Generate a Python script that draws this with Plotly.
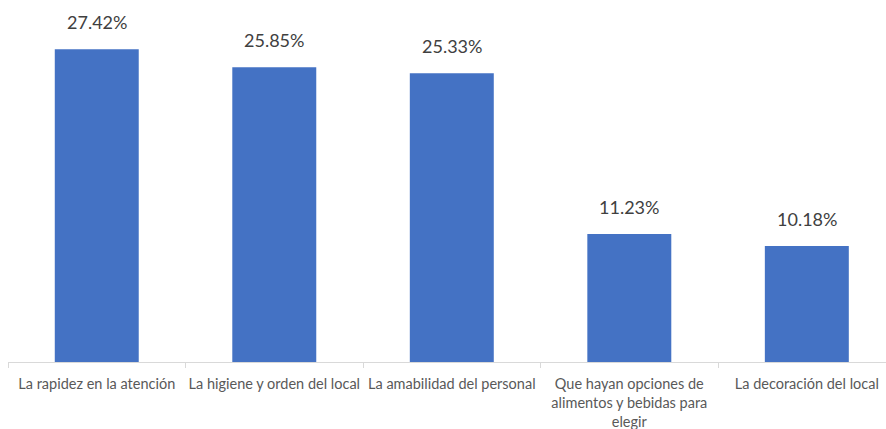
import plotly.graph_objects as go

categories = [
    "La rapidez en la atención",
    "La higiene y orden del local",
    "La amabilidad del personal",
    "Que hayan opciones de<br>alimentos y bebidas para<br>elegir",
    "La decoración del local",
]
values = [27.42, 25.85, 25.33, 11.23, 10.18]
value_labels = ["27.42%", "25.85%", "25.33%", "11.23%", "10.18%"]

fig = go.Figure(go.Bar(
    x=categories, y=values,
    marker=dict(color="#4472C4", line=dict(width=0)),
    hoverinfo="skip",
))

for c, v, t in zip(categories, values, value_labels):
    fig.add_annotation(x=c, y=v, text=t, showarrow=False, yanchor="middle",
                       yshift=27, font=dict(size=18, color="#404040"))

fig.update_layout(
    width=886, height=429,
    margin=dict(l=8, r=0, t=0, b=67),
    paper_bgcolor="white", plot_bgcolor="white",
    bargap=0.527,
    font=dict(family="Lato, Liberation Sans, sans-serif", color="#595959"),
    showlegend=False,
)
fig.update_xaxes(
    range=[-0.5, 4.446],
    showline=True, linecolor="#d9d9d9", linewidth=1,
    ticks="outside", tickson="boundaries", ticklen=5, tickcolor="#d9d9d9",
    tickfont=dict(size=14.5, color="#595959"),
    tickangle=0, automargin=False,
    ticklabelstandoff=9,
    showgrid=False,
)
fig.update_yaxes(range=[0, 31.75], visible=False, showgrid=False, automargin=False)

fig.write_html("out.html")
